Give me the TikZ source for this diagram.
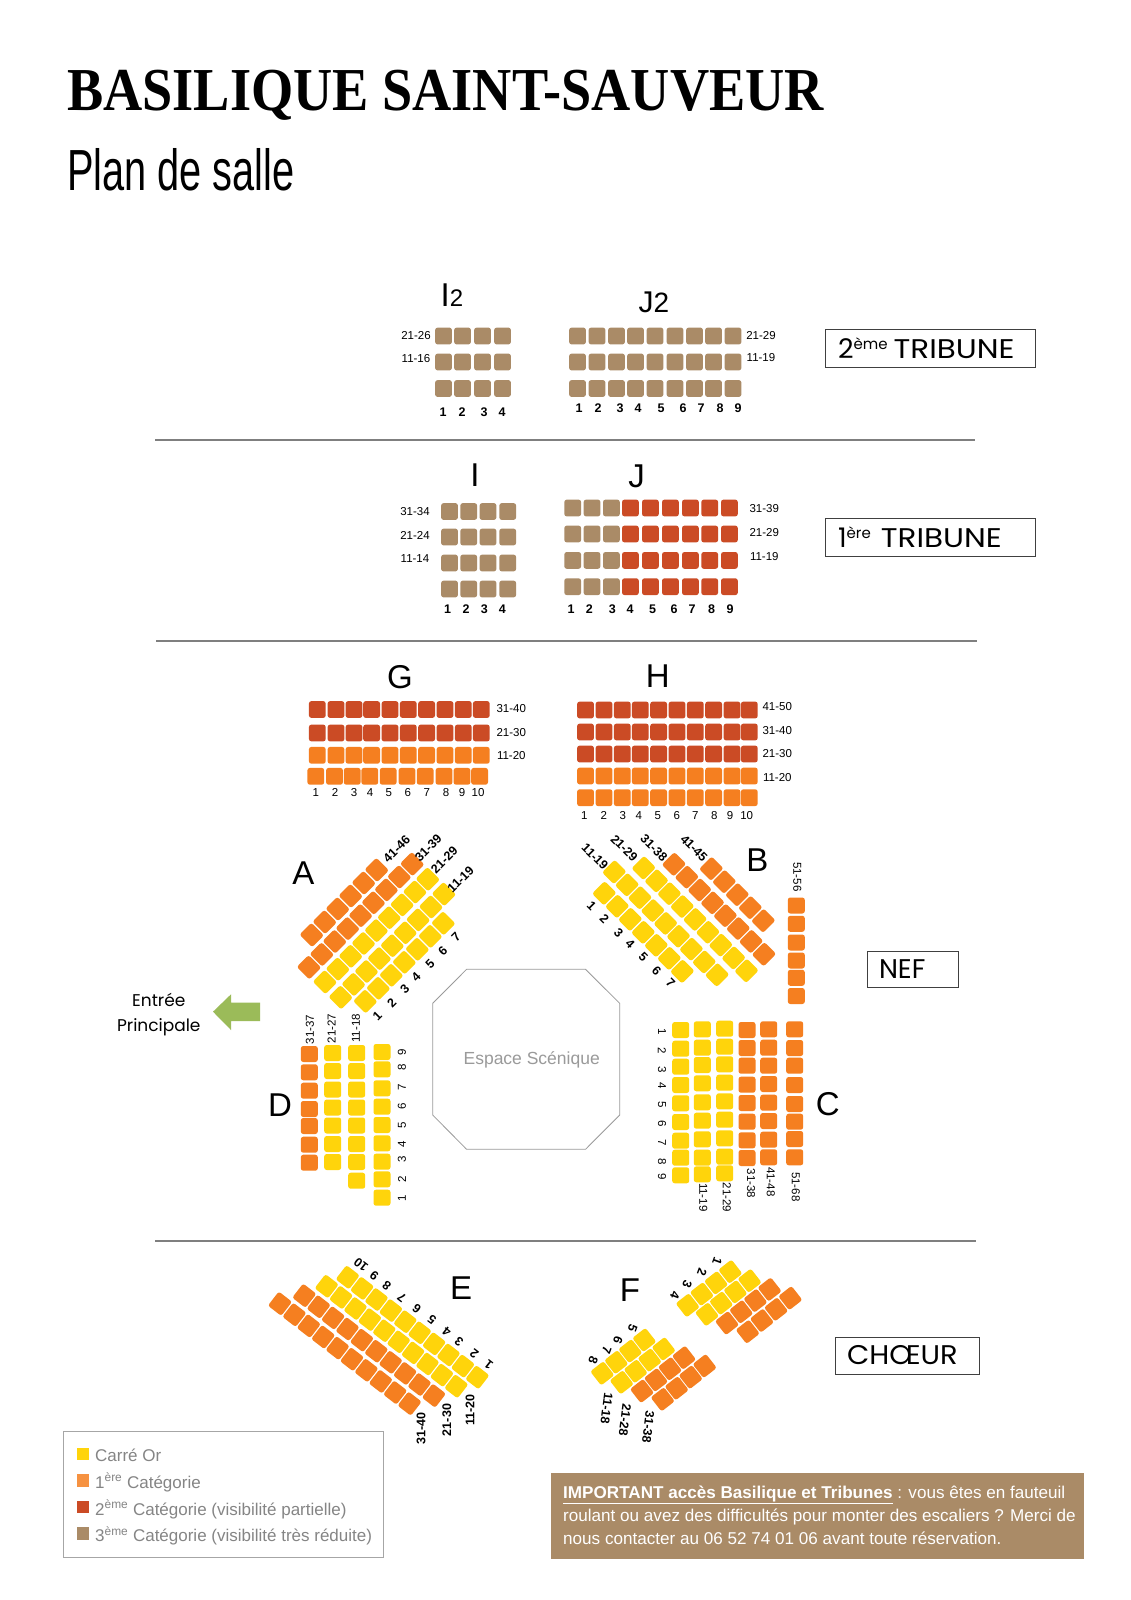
\documentclass[tikz,border=0pt]{standalone}
\usepackage{fontspec}
\usepackage{graphicx}
\setmainfont{Liberation Sans}
\newfontfamily\titlefont{Liberation Serif}
\newfontfamily\popfont{Poppins}
\definecolor{gold}{HTML}{FFD40B}
\definecolor{amber}{HTML}{F57F20}
\definecolor{brick}{HTML}{CB4B25}
\definecolor{taupe}{HTML}{AA8B67}
\definecolor{sepgray}{HTML}{7F7F7F}
\definecolor{legtext}{HTML}{858585}
\definecolor{stagegray}{HTML}{9A9A9A}
\definecolor{leaf}{HTML}{9BBB59}
\newcommand\fsz[1]{\fontsize{#1}{#1}\selectfont}
\newcommand\seatline[8]{\foreach \k in {1,...,#3}{\node[seattilt,fill=#2,rotate=#8] (#1\k) at ({#4+(\k-1)*#6},{#5+(\k-1)*#7}) {};}}
\newcommand\seatrowat[4]{\foreach \cx [count=\k] in {#4}{\node[seatnode,fill=#2] (#1\k) at (\cx,#3) {};}}
\newcommand\seatcolat[4]{\foreach \cy [count=\k] in {#4}{\node[seatcol,fill=#2] (#1\k) at (#3,\cy) {};}}
\newcommand\zonetext[3]{#1\raisebox{9pt}{\fsz{15}#2}\hspace{#3}\scalebox{1.15}[1]{TRIBUNE}}
\tikzset{
  seatnode/.style={rectangle,rounded corners=2.5pt,inner sep=0pt,minimum width=16.8pt,minimum height=16.8pt,draw=none},
  seatcol/.style={seatnode,minimum width=17pt,minimum height=16pt},
  seattilt/.style={seatnode,minimum width=16.8pt,minimum height=17.8pt},
  blocktitle/.style={inner sep=0pt,font=\fsz{33}},
  rowlabel/.style={inner sep=0pt,font=\fsz{11.5}},
  boldlabel/.style={inner sep=0pt,font=\fsz{12.5}\bfseries},
  sepline/.style={draw=sepgray,line width=1.5pt},
  zonebox/.style={draw=black!75,line width=0.7pt,fill=white,inner ysep=0pt,align=left,font=\popfont\fsz{27}},
  legtxt/.style={inner sep=0pt,anchor=base west,text=legtext,font=\fsz{17}},
  legsq/.style={inner sep=0pt,minimum width=12pt,minimum height=12.5pt},
  infotxt/.style={inner sep=0pt,anchor=base west,text=white,font=\fsz{17.1}},
}
\begin{document}
\begin{tikzpicture}[x=1pt,y=-1pt]
\path[use as bounding box] (0,0) rectangle (1131,1600);
\fill[white] (0,0) rectangle (1131,1600);

% Title
\node[inner sep=0pt,anchor=base west,font=\titlefont\fsz{61}\bfseries] (title) at (67,110.7) {\scalebox{0.89}[1]{BASILIQUE SAINT-SAUVEUR}};
\node[inner sep=0pt,anchor=base west,font=\fsz{58}] (subtitle) at (67,190) {\scalebox{0.685}[1]{Plan de salle}};

% Separators
\coordinate (s1a) at (155,440); \coordinate (s1b) at (975,440);
\coordinate (s2a) at (156,641); \coordinate (s2b) at (977,641);
\coordinate (s3a) at (155,1241); \coordinate (s3b) at (976,1241);
\draw[sepline] (s1a) -- (s1b);
\draw[sepline] (s2a) -- (s2b);
\draw[sepline] (s3a) -- (s3b);

% Zone boxes
\node[zonebox,inner xsep=13pt,text width=184pt,minimum height=38pt] (trib2) at (930,348) {\zonetext{2}{ème}{6pt}};
\node[zonebox,inner xsep=13pt,text width=184pt,minimum height=38pt] (trib1) at (930,537) {\zonetext{1}{ère}{10pt}};
\node[zonebox,inner xsep=12pt,text width=67pt,minimum height=36pt] (nef) at (912.5,969) {NEF};
\node[zonebox,inner xsep=12pt,text width=120pt,minimum height=37pt] (choeur) at (907,1355.5) {\scalebox{1.07}[1]{CHŒUR}};

% I2 J2
\node[inner sep=0pt] (ttI2) at (452,295) {\fsz{33}I\fsz{24}2};
\node[inner sep=0pt] (ttJ2) at (654,302) {\fsz{30}J\fsz{28}2};
\seatrowat{ia}{taupe}{336}{443.5,462.5,482.5,502.5}
\seatrowat{ib}{taupe}{362}{443.5,462.5,482.5,502.5}
\seatrowat{ic}{taupe}{388.5}{443.5,462.5,482.5,502.5}
\seatrowat{ja}{taupe}{336}{577.5,597,616.5,635.5,655,675,694.5,713.5,733}
\seatrowat{jb}{taupe}{362}{577.5,597,616.5,635.5,655,675,694.5,713.5,733}
\seatrowat{jc}{taupe}{388.5}{577.5,597,616.5,635.5,655,675,694.5,713.5,733}
\foreach \t/\x/\y [count=\i] in {21-26/416/336,11-16/416/359,21-29/761/336,11-19/761/358}
  \node[rowlabel] (la\i) at (\x,\y) {\t};
\foreach \t/\x [count=\i] in {1/443,2/462,3/484,4/502}
  \node[boldlabel] (na\i) at (\x,412) {\t};
\foreach \t/\x [count=\i] in {1/579,2/598,3/620,4/638,5/661,6/683,7/701,8/720,9/738}
  \node[boldlabel] (nb\i) at (\x,408) {\t};

% I J
\node[blocktitle] (ttI) at (475,475) {I};
\node[blocktitle] (ttJ) at (636.7,476) {J};
\foreach \yy [count=\r] in {511.5,537,563,589}{
  \seatrowat{ka\r}{taupe}{\yy}{449.5,468.7,488,507.7}
}
\foreach \yy [count=\r] in {508,534,560.4,586.7}{
  \seatrowat{kb\r}{taupe}{\yy}{572.7,592,611.4}
  \seatrowat{kc\r}{brick}{\yy}{630.4,650.4,670.4,690.4,709.7,729.4}
}
\foreach \t/\x/\y [count=\i] in {31-34/415/511.7,21-24/415/535,11-14/415/559,31-39/764.3/509,21-29/764.3/533,11-19/764.3/556.7}
  \node[rowlabel] (lc\i) at (\x,\y) {\t};
\foreach \t/\x [count=\i] in {1/447.7,2/466,3/484.3,4/502.3,1/571,2/589.3,3/612.3,4/630,5/652.7,6/674,7/692,8/711.7,9/730}
  \node[boldlabel] (nc\i) at (\x,609) {\t};

% G H
\node[blocktitle] (ttG) at (400,676.7) {G};
\node[blocktitle] (ttH) at (657.7,675.7) {H};
\foreach \yy/\cc [count=\r] in {709.5/brick,733/brick,755.3/amber}{
  \seatrowat{ga\r}{\cc}{\yy}{317.3,336,354,371.6,390,408.3,426.6,445,463.3,481.3}
}
\seatrowat{gb}{amber}{776.3}{315.8,334.5,352.2,369.8,388.2,407,425.2,444,462,479.6}
\foreach \yy/\cc [count=\r] in {710/brick,732/brick,754/brick,776/amber,797.7/amber}{
  \seatrowat{ha\r}{\cc}{\yy}{585.5,604,622.3,640.3,658.6,677,695.3,713.6,732,749.3}
}
\foreach \t/\x/\y [count=\i] in {31-40/511.3/708.3,21-30/511.3/732.3,11-20/511.3/755.7,41-50/777.3/707,31-40/777.3/730.7,21-30/777.3/754,11-20/777.3/777.3}
  \node[rowlabel] (le\i) at (\x,\y) {\t};
\foreach \t/\x [count=\i] in {1/315.7,2/335,3/354,4/370,5/388.7,6/407.7,7/426.7,8/446,9/462,10/478}
  \node[rowlabel] (ng\i) at (\x,792.3) {\t};
\foreach \t/\x [count=\i] in {1/584.3,2/603.7,3/622.7,4/638.7,5/657.7,6/676.7,7/695.3,8/714.3,9/730,10/746.7}
  \node[rowlabel] (nh\i) at (\x,815.7) {\t};

% A
\node[blocktitle] (ttA) at (303.3,873.3) {A};
\seatline{aa}{amber}{6}{311.7}{935}{13}{-13}{45}
\seatline{ab}{amber}{9}{309}{967.3}{12.9}{-12.9}{45}
\seatline{ac}{gold}{9}{325}{982}{12.85}{-12.85}{45}
\seatline{ad}{gold}{9}{340.7}{997.3}{12.9}{-12.9}{45}
\seatline{ae}{gold}{7}{365.3}{1001.3}{13}{-13}{45}
\foreach \t/\x/\y [count=\i] in {41-46/396.7/849,31-39/428.3/847.7,21-29/444.3/860,11-19/460.7/879.3,1/377.3/1015.7,2/391.7/1002.7,3/404.7/988.7,4/416/977.3,5/430/964,6/442.7/950.7,7/456/937.3}
  \node[boldlabel,rotate=45] (lA\i) at (\x,\y) {\t};

% B
\node[blocktitle] (ttB) at (757.3,860) {B};
\seatline{ba}{gold}{9}{614.3}{872}{12.85}{12.85}{-45}
\seatline{bb}{gold}{7}{604.3}{893.3}{13}{13}{-45}
\seatline{bc}{gold}{9}{643.7}{868}{12.85}{12.85}{-45}
\seatline{bd}{amber}{8}{674}{864.3}{12.85}{12.85}{-45}
\seatline{be}{amber}{5}{711.3}{868.7}{13}{13}{-45}
\seatcolat{bf}{amber}{796.3}{905.5,923.8,942.5,960.5,977.8,996}
\foreach \t/\x/\y [count=\i] in {11-19/595/856.7,21-29/624.3/848.3,31-38/654/847.7,41-45/694/848.3,1/591.7/906,2/604.3/919.3,3/618.7/932.7,4/630/944.3,5/643.3/957.3,6/656.7/970.7,7/670.7/983.3}
  \node[boldlabel,rotate=-45] (lB\i) at (\x,\y) {\t};
\node[rowlabel,rotate=-90] (lB51) at (797.3,876.7) {51-56};

% Stage
\draw[draw=stagegray,line width=0.8pt] (466.6,969.3) -- (585.5,969.3) -- (619.7,1003.3) -- (619.7,1115) -- (585.5,1149.3) -- (466.6,1149.3) -- (432.7,1115) -- (432.7,1003.3) -- cycle;
\node[inner sep=0pt,text=stagegray,font=\fsz{17.5}] (stage) at (531.7,1060.3) {Espace Scénique};

% Entrance
\fill[leaf] (213,1011.7) -- (231,994.3) -- (231,1002.7) -- (260,1002.7) -- (260,1021) -- (231,1021) -- (231,1030) -- cycle;
\node[inner sep=0pt,font=\popfont\fsz{17}] (ent1) at (158.8,1000) {Entrée};
\node[inner sep=0pt,font=\popfont\fsz{17}] (ent2) at (158.8,1027.5) {Principale};

% D
\node[blocktitle] (ttD) at (280,1105) {D};
\seatcolat{da}{amber}{309.3}{1054,1072.3,1090.7,1109,1126,1144.7,1162.7}
\seatcolat{db}{gold}{332.7}{1053,1071,1089.5,1107.5,1125.5,1144,1162}
\seatcolat{dc}{gold}{356.7}{1053,1071,1089.5,1107.5,1125.5,1144,1162,1180.7}
\seatcolat{dd}{gold}{382}{1052,1069.3,1088.3,1106.7,1125,1143.3,1161.7,1179.3,1197.7}
\foreach \t/\x/\y [count=\i] in {31-37/310/1029.3,21-27/331.7/1028.3,11-18/356/1028.3}
  \node[rowlabel,rotate=90] (lD\i) at (\x,\y) {\t};
\foreach \t/\y [count=\i] in {9/1052,8/1067.3,7/1087.3,6/1106,5/1125,4/1144,3/1159,2/1179,1/1198.3}
  \node[rowlabel,rotate=90] (nD\i) at (402,\y) {\t};

% C
\node[blocktitle] (ttC) at (827.7,1104.3) {C};
\seatcolat{ca}{gold}{680.7}{1030,1048.7,1066.7,1085,1103.3,1122,1140.7,1157.7,1175.3}
\seatcolat{cb}{gold}{702.3}{1029.3,1047.7,1065,1083.3,1102.3,1120.7,1139.3,1157.7,1174.3}
\seatcolat{cc}{gold}{724.7}{1028.7,1046.7,1064.3,1082.7,1101.3,1119.7,1138.3,1156.7,1173.3}
\seatcolat{cd}{amber}{747}{1030,1048,1065.7,1084.7,1103,1121.7,1140.3,1158}
\seatcolat{ce}{amber}{768.7}{1029.3,1047.7,1065.7,1084,1102.7,1121,1139.7,1157.3}
\seatcolat{cf}{amber}{794.7}{1029.3,1048,1065.7,1085,1104,1121.7,1139,1157.3}
\foreach \t/\x/\y [count=\i] in {11-19/703.3/1197.3,21-29/726.7/1197.3,31-38/751/1183.3,41-48/770.7/1181.7,51-68/795.7/1186.7,1/662/1031.7,2/662/1050.7,3/662/1070,4/662/1085.7,5/662/1104.3,6/662/1124,7/662/1142.3,8/662/1161.7,9/662/1176.7}
  \node[rowlabel,rotate=-90] (lC\i) at (\x,\y) {\t};

% E
\node[blocktitle] (ttE) at (461,1288.3) {E};
\seatline{ea}{gold}{10}{347.7}{1277.3}{14.4}{11.1}{-37.7}
\seatline{eb}{gold}{10}{326.7}{1286.3}{14.4}{11.1}{-37.7}
\seatline{ec}{amber}{10}{304.3}{1295.7}{14.4}{11.1}{-37.7}
\seatline{ed}{amber}{10}{280}{1303.7}{14.4}{11.1}{-37.7}
\foreach \t/\x/\y [count=\i] in {31-40/421/1428.3,21-30/446.7/1420,11-20/470/1410}
  \node[boldlabel,rotate=90] (lE\i) at (\x,\y) {\t};
\foreach \t/\x/\y [count=\i] in {1/488.7/1365,2/474.3/1353.3,3/459/1341.7,4/446.7/1331.3,5/432/1320,6/416.7/1308.3,7/401.7/1297.3,8/386.7/1285.7,9/374.3/1276,10/361/1265}
  \node[boldlabel,rotate=142] (nE\i) at (\x,\y) {\t};

% F
\node[blocktitle] (ttF) at (630,1290) {F};
\seatline{fa}{gold}{4}{687.7}{1305.3}{14.2}{-11.2}{38}
\seatline{fb}{gold}{4}{707}{1314.3}{14.2}{-11.2}{38}
\seatline{fc}{amber}{4}{727}{1323}{14.2}{-11.2}{38}
\seatline{fd}{amber}{4}{747.7}{1331.7}{14.2}{-11.2}{38}
\seatline{fe}{gold}{4}{602.3}{1373.3}{14}{-11.1}{38}
\seatline{ff}{gold}{4}{621.7}{1382.3}{14}{-11.1}{38}
\seatline{fg}{amber}{4}{642}{1391}{14}{-11.1}{38}
\seatline{fh}{amber}{4}{662.7}{1399.3}{14}{-11.1}{38}
\foreach \t/\x/\y [count=\i] in {11-18/606.7/1408.3,21-28/625/1420,31-38/648.3/1426.7}
  \node[boldlabel,rotate=-97] (lF\i) at (\x,\y) {\t};
\foreach \t/\x/\y [count=\i] in {1/717.3/1261,2/702/1272.7,3/687.3/1284.3,4/675/1295,5/632.7/1328.3,6/618/1340,7/606.7/1350.7,8/593.3/1360}
  \node[boldlabel,rotate=-110] (nF\i) at (\x,\y) {\t};

% Legend
\draw[draw=black!35,line width=0.8pt] (63.5,1431.5) rectangle (383,1557.5);
\node[legsq,fill=gold] (q1) at (83,1454) {};
\node[legsq,fill=amber!85!white] (q2) at (83,1480.5) {};
\node[legsq,fill=brick] (q3) at (83,1507) {};
\node[legsq,fill=taupe] (q4) at (83,1533.5) {};
\node[legtxt] (t1) at (95,1461) {Carré Or};
\node[legtxt] (t2) at (95,1488) {1\textsuperscript{ère} Catégorie};
\node[legtxt] (t3) at (95,1515) {2\textsuperscript{ème} Catégorie (visibilité partielle)};
\node[legtxt] (t4) at (95,1541.5) {3\textsuperscript{ème} Catégorie (visibilité très réduite)};

% Information box
\fill[taupe] (551,1472.7) rectangle (1084,1559);
\node[infotxt] (i1) at (563,1498.5) {\underline{\textbf{IMPORTANT accès Basilique et Tribunes}} : vous êtes en fauteuil};
\node[infotxt] (i2) at (563,1521.5) {roulant ou avez des difficultés pour monter des escaliers ? Merci de};
\node[infotxt] (i3) at (563,1544.7) {nous contacter au 06 52 74 01 06 avant toute réservation.};
\end{tikzpicture}
\end{document}
